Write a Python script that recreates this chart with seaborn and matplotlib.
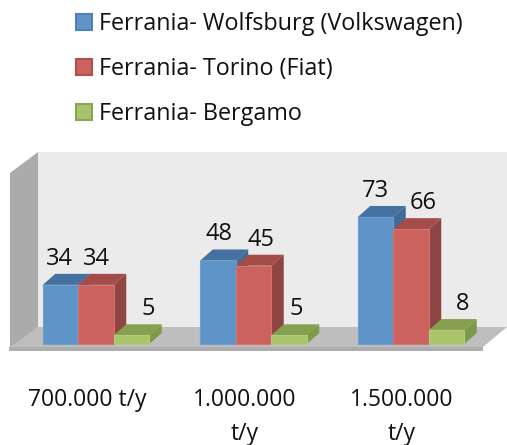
import matplotlib
matplotlib.use("Agg")
import matplotlib.pyplot as plt
from matplotlib.patches import Polygon
from matplotlib.transforms import ScaledTranslation
import seaborn as sns
import pandas as pd

categories = ["700.000 t/y", "1.000.000\nt/y", "1.500.000\nt/y"]
wolfsburg = [34, 48, 73]
torino = [34, 45, 66]
bergamo = [5, 5, 8]
series_names = ["Ferrania- Wolfsburg (Volkswagen)", "Ferrania- Torino (Fiat)", "Ferrania- Bergamo"]

front = ["#5f94c9", "#cc625e", "#a9c46a"]
edge = ["#4f81b5", "#b0504d", "#8aa650"]
bar_edge = ["#6f9fce", "#d27572", "#b3cb7c"]
top = ["#44719f", "#a34c49", "#86a050"]
side = ["#3f6c9a", "#8f4543", "#7d9a4a"]
label_dx_px = [[-1, 0, 17], [1, 8, 7], [0, 12, 16]]

W, H = 507, 445
FONT = "Open Sans"
df = pd.DataFrame({
    "cat": categories * 3,
    "val": wolfsburg + torino + bergamo,
    "ser": [s for s in series_names for _ in categories],
})

sns.set_theme(style="white")
plt.rcParams["font.family"] = [FONT, "DejaVu Sans"]
fig = plt.figure(figsize=(W / 100, H / 100), dpi=100)

# background scene, in pixel space
bg = fig.add_axes([0, 0, 1, 1], zorder=0)
bg.set_xlim(0, W); bg.set_ylim(H, 0); bg.axis("off")
bg.add_patch(Polygon([(38, 152), (507, 152), (507, 327), (38, 327)], fc="#ebebeb", ec="none"))
bg.add_patch(Polygon([(10, 173), (38, 152), (38, 327), (10, 351)], fc="#ababab", ec="none"))
bg.add_patch(Polygon([(38, 327), (507, 327), (483, 347), (10, 347)], fc="#bebebe", ec="none"))
bg.add_patch(Polygon([(9, 347), (483, 347), (483, 351), (9, 351)], fc="#adadad", ec="none"))

# bars
Y_SCALE = 1.74
L, R, BASE, TOP = 17.25, 489.75, 344, 152
ax = fig.add_axes([L / W, (H - BASE) / H, (R - L) / W, (BASE - TOP) / H], zorder=1)
ax.patch.set_alpha(0)
sns.barplot(data=df, x="cat", y="val", hue="ser", hue_order=series_names, order=categories,
            palette=front, width=0.676, gap=0, dodge=True, saturation=1, ax=ax,
            linewidth=0.8, edgecolor="none", errorbar=None)
ax.set_xlim(-0.5, 2.5)
ax.set_ylim(0, (BASE - TOP) / Y_SCALE)
ax.set_xlabel(""); ax.set_ylabel(""); ax.set_yticks([])
sns.despine(ax=ax, left=True, bottom=True)

dx = 12.5 / 157.5
dy = 11 / Y_SCALE
for si, cont in enumerate(ax.containers):
    for ci, bar in enumerate(cont):
        x0, w, h = bar.get_x(), bar.get_width(), bar.get_height()
        z = 3 + si * 2
        bar.set_zorder(z + 1)
        bar.set_edgecolor(bar_edge[si])
        bar.set_clip_on(False)
        ax.add_patch(Polygon([(x0 + w, 0), (x0 + w + dx, dy), (x0 + w + dx, h + dy), (x0 + w, h)],
                             fc=side[si], ec="none", zorder=z, clip_on=False))
        ax.add_patch(Polygon([(x0, h), (x0 + dx, h + dy), (x0 + w + dx, h + dy), (x0 + w, h)],
                             fc=top[si], ec="none", zorder=z, clip_on=False))
        ax.annotate(f"{h:.0f}", (x0 + w / 2, h),
                    xytext=(label_dx_px[ci][si] * 0.72, 26 * 0.72), textcoords="offset points",
                    ha="center", va="center", fontsize=17, color="#111111", zorder=20,
                    annotation_clip=False)

# category labels
ax.tick_params(axis="x", length=0, pad=32, labelsize=16.5, colors="#111111")
shift = ScaledTranslation(-9 / 100, 0, fig.dpi_scale_trans)
for t in ax.get_xticklabels():
    t.set_linespacing(1.55)
    t.set_va("top")
    t.set_transform(t.get_transform() + shift)

# legend
handles, labels = ax.get_legend_handles_labels()
leg = ax.legend(handles, labels, loc="upper left", frameon=False,
                bbox_to_anchor=(76 / W, 1 - 12 / H), bbox_transform=fig.transFigure,
                fontsize=16.8, handlelength=0.7, handleheight=0.7, handletextpad=0.27,
                labelspacing=0.9, borderpad=0, borderaxespad=0)
for hnd, e in zip(leg.get_patches(), edge):
    hnd.set_edgecolor(e)
    hnd.set_linewidth(1.5)
for t in leg.get_texts():
    t.set_color("#111111")

fig.savefig("out.png", dpi=100)
